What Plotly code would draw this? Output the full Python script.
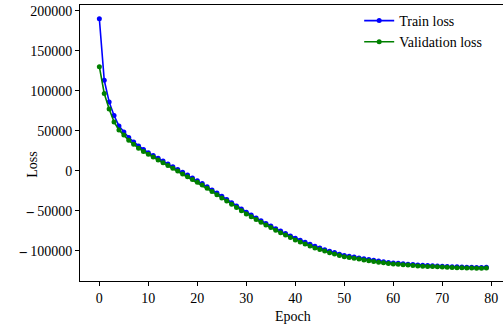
import plotly.graph_objects as go

epochs = list(range(80))

val_loss = [
    130000, 96500, 77000, 61000, 51000, 44500, 38000, 33000, 28000, 24000,
    20500, 17000, 13500, 10000, 6500, 3000, -500, -4000, -7500, -11000,
    -14500, -18000, -22000, -26000, -30000, -34000, -38000, -42000, -46000, -50000,
    -54000, -57500, -61000, -64500, -68000, -71000, -74500, -77500, -80500, -83500,
    -86500, -89000, -91500, -94000, -96500, -98500, -100500, -102500, -104000, -106000,
    -107500, -108500, -109500, -110500, -111500, -112500, -113500, -114500, -115000, -116000,
    -116500, -117000, -117500, -118000, -118500, -119000, -119300, -119600, -119800, -120000,
    -120500, -120800, -121000, -121200, -121400, -121600, -121700, -121800, -121900, -121600,
]

train_loss = [
    190000, 113000, 86000, 69000, 56000, 48500, 41500, 36000, 31000, 26500,
    22500, 19000, 15500, 12000, 8500, 5000, 1500, -2000, -5500, -9000,
    -12500, -16000, -20000, -24000, -28000, -32000, -36000, -40000, -44000, -48000,
    -52000, -55500, -59000, -62500, -66000, -69000, -72500, -75500, -78500, -81500,
    -84500, -87000, -89500, -92000, -94500, -96700, -98700, -100700, -102300, -104300,
    -105900, -107000, -108000, -109000, -110000, -111000, -112000, -113000, -113700, -114700,
    -115300, -115800, -116300, -116900, -117400, -117900, -118300, -118600, -118800, -119000,
    -119500, -119800, -120000, -120200, -120400, -120600, -120800, -120900, -121000, -120800,
]

x_ticks = [0, 10, 20, 30, 40, 50, 60, 70, 80]
y_ticks = [-100000, -50000, 0, 50000, 100000, 150000, 200000]
y_ticktext = ["<b>\u2013</b> 100000", "<b>\u2013</b> 50000", "0", "50000", "100000", "150000", "200000"]

font_family = "Liberation Serif"

fig = go.Figure()
fig.add_trace(go.Scatter(
    x=epochs, y=train_loss, mode="lines+markers", name="Train loss",
    line=dict(color="#0000ff", width=1.6),
    marker=dict(color="#0000ff", size=5),
))
fig.add_trace(go.Scatter(
    x=epochs, y=val_loss, mode="lines+markers", name="Validation loss",
    line=dict(color="#008000", width=1.6),
    marker=dict(color="#008000", size=5),
))

fig.update_layout(
    width=503, height=329,
    margin=dict(l=80, r=0, t=5, b=48),
    paper_bgcolor="white", plot_bgcolor="white",
    font=dict(family=font_family, size=14, color="black"),
    showlegend=True,
    legend=dict(
        x=0.66, y=1.0, xanchor="left", yanchor="top",
        bgcolor="rgba(0,0,0,0)", borderwidth=0,
        font=dict(family=font_family, size=14, color="black"),
        itemwidth=30, tracegroupgap=0,
    ),
    xaxis=dict(
        range=[-3.95, 82.39],
        tickmode="array", tickvals=x_ticks,
        ticks="outside", ticklen=4, tickwidth=1, tickcolor="black",
        showline=True, linecolor="black", linewidth=1, mirror=True,
        showgrid=False, zeroline=False,
        tickfont=dict(family=font_family, size=14, color="black"),
    ),
    yaxis=dict(
        range=[-137875, 207125],
        tickmode="array", tickvals=y_ticks, ticktext=y_ticktext,
        ticks="outside", ticklen=4, tickwidth=1, tickcolor="black",
        showline=True, linecolor="black", linewidth=1, mirror=False,
        showgrid=False, zeroline=False,
        tickfont=dict(family=font_family, size=14, color="black"),
    ),
    annotations=[
        dict(text="Epoch", xref="paper", yref="paper",
             x=(293 - 80) / 423, y=-(316.7 - 281) / 276,
             xanchor="center", yanchor="middle", showarrow=False,
             font=dict(family=font_family, size=14, color="black")),
        dict(text="Loss", xref="paper", yref="paper",
             x=-(80 - 31.7) / 423, y=(281 - 165) / 276,
             xanchor="center", yanchor="middle", showarrow=False, textangle=-90,
             font=dict(family=font_family, size=14, color="black")),
    ],
)

fig.write_html(
    "out.html",
    config={"displayModeBar": False},
    post_script="document.body.style.margin='0';document.body.style.overflow='hidden';",
)
